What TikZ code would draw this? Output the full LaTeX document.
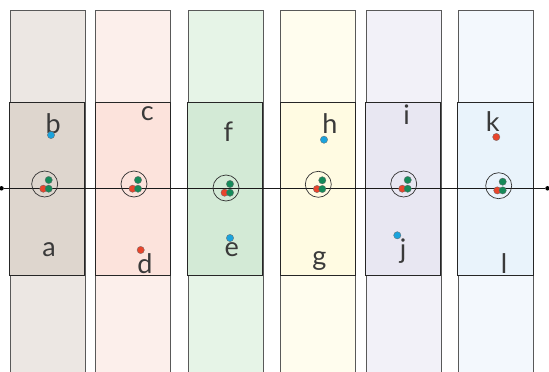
\documentclass[tikz,border=0pt]{standalone}
\usepackage{fontspec}
\setmainfont{Lato}
\definecolor{oA}{HTML}{ECE7E3}\definecolor{iA}{HTML}{DED6CE}
\definecolor{oB}{HTML}{FCEFEB}\definecolor{iB}{HTML}{FCE3DC}
\definecolor{oC}{HTML}{E6F4E7}\definecolor{iC}{HTML}{D3EAD6}
\definecolor{oD}{HTML}{FFFDEE}\definecolor{iD}{HTML}{FFFBE2}
\definecolor{oE}{HTML}{F2F1F8}\definecolor{iE}{HTML}{E8E7F2}
\definecolor{oF}{HTML}{F3F8FD}\definecolor{iF}{HTML}{E9F3FB}
\definecolor{dgreen}{HTML}{168A5A}
\definecolor{dred}{HTML}{E8452C}
\definecolor{dblue}{HTML}{1BA3DC}
\definecolor{lblgray}{HTML}{3A3A3A}
\tikzset{
  outerbar/.style={draw=black!65, line width=0.8pt},
  innerbar/.style={draw=black!85, line width=0.9pt},
  ring/.style={circle, draw=black!80, line width=0.7pt, minimum size=26pt, inner sep=0pt},
  dotbase/.style={circle, draw=black!60, line width=0.3pt, minimum size=7.3pt, inner sep=0pt},
  dg/.style={dotbase, fill=dgreen},
  dr/.style={dotbase, fill=dred},
  db/.style={dotbase, fill=dblue},
  lbl/.style={font=\fontsize{27}{30}\selectfont, text=lblgray, anchor=base, inner sep=0pt},
  enddot/.style={circle, fill=black, inner sep=0pt, minimum size=4.5pt},
}
\newcommand{\colbars}[4]{%
  \draw[outerbar, fill=#3] (#1,10) rectangle (#2,380);
  \draw[innerbar, fill=#4] (#1-0.6,102) rectangle (#2-0.6,275);
}
\newcommand{\ringgroup}[4]{%
  \node[ring] (#1) at (#2,#3) {};
  \node[dr] (#1r) at (#2-1.4,#3+4.7) {};
  \node[dg] (#1g2) at (#2+4,#3+4.7) {};
  \node[dg] (#1g1) at (#2+4,#3-4) {};
}
\begin{document}
\begin{tikzpicture}[x=1pt,y=-1pt]
\useasboundingbox (0,0) rectangle (549,372);
\clip (0,0) rectangle (549,372);
\colbars{10}{85.3}{oA}{iA}
\colbars{95.8}{170.8}{oB}{iB}
\colbars{188}{263.3}{oC}{iC}
\colbars{280.7}{355.7}{oD}{iD}
\colbars{366}{441.3}{oE}{iE}
\colbars{458.3}{533.7}{oF}{iF}
\node[enddot] (L) at (1.5,188.3) {};
\node[enddot] (R) at (547.5,188.3) {};
\draw[line width=0.9pt, black!90] (L) -- (R);
\ringgroup{r1}{44.7}{184}{}
\ringgroup{r2}{134}{184}{}
\ringgroup{r3}{226}{188}{}
\ringgroup{r4}{318.3}{184.3}{}
\ringgroup{r5}{403.7}{184}{}
\ringgroup{r6}{498.7}{185.7}{}
% labels
\node[lbl] (a) at (49,256.5) {a};
\node[lbl] (b) at (53.3,133.3) {b};
\node[lbl] (c) at (147.3,120) {c};
\node[lbl] (d) at (145,273.3) {d};
\node[lbl] (e) at (231.7,256.7) {e};
\node[lbl] (f) at (228.3,141.7) {f};
\node[lbl] (g) at (319.3,265.5) {g};
\node[lbl] (h) at (330,133.3) {h};
\node[lbl] (i) at (406.7,124) {i};
\node[lbl] (j) at (403,258) {j};
\node[lbl] (k) at (492.7,131) {k};
\node[lbl] (l) at (504,273.3) {l};
% single dots
\node[db] (pb) at (51,135) {};
\node[dr] (pd) at (140.7,250) {};
\node[db] (pe) at (230,238) {};
\node[db] (ph) at (324,139.7) {};
\node[db] (pj) at (397.3,235.3) {};
\node[dr] (pk) at (496.3,137) {};
\end{tikzpicture}
\end{document}
